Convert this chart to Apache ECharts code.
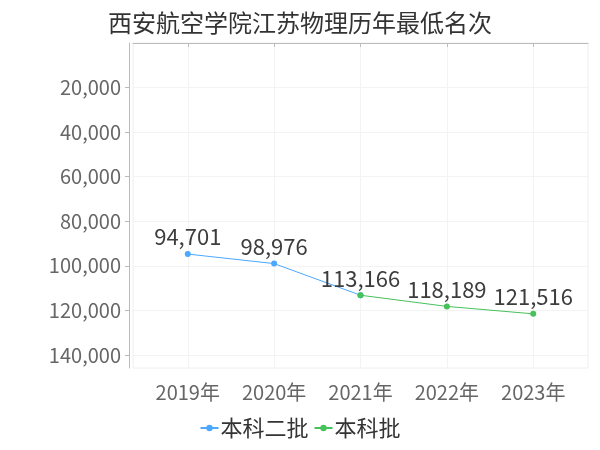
<!DOCTYPE html>
<html>
<head>
<meta charset="utf-8">
<script src="https://cdn.jsdelivr.net/npm/echarts@6/dist/echarts.min.js"></script>
<style>html,body{margin:0;padding:0;background:#fff}#c{width:600px;height:450px}</style>
</head>
<body>
<div id="c"></div>
<script>
const years = [2019, 2020, 2021, 2022, 2023];
const seriesNames = ['本科二批', '本科批'];
const erpiYears = [2019, 2020, 2021];
const erpiValues = [94701, 98976, 113166];
const benkeYears = [2021, 2022, 2023];
const benkeValues = [113166, 118189, 121516];
const yTicks = [20000, 40000, 60000, 80000, 100000, 120000, 140000];
const titleText = '西安航空学院江苏物理历年最低名次';

const font = "'Noto Sans CJK SC', 'Noto Sans', sans-serif";
const fmt = v => v.toLocaleString('en-US');
const allVals = erpiValues.concat(benkeValues);
const yMax = Math.max(...allVals) * 1.2;

const chart = echarts.init(document.getElementById('c'), null, {renderer: 'canvas'});
chart.setOption({
  animation: false,
  textStyle: {fontFamily: font},
  title: {
    text: titleText, left: 'center', top: 6,
    textStyle: {fontSize: 24, fontWeight: 'normal', color: '#333', fontFamily: font}
  },
  legend: {
    bottom: 6, left: 'center', itemWidth: 18, itemHeight: 8, itemGap: 5,
    data: seriesNames,
    textStyle: {fontSize: 22, color: '#333', fontFamily: font, padding: [0, 0, 0, -3]}
  },
  grid: {
    left: 133, right: 12, top: 43, bottom: 82,
    show: true, borderColor: '#eeeeee', borderWidth: 1
  },
  xAxis: {
    type: 'value',
    min: years[0] - 0.634, max: years[years.length - 1] + 0.634,
    offset: 4,
    axisLine: {show: true, lineStyle: {color: '#bbbbbb'}},
    axisTick: {show: true, length: 4, customValues: years, lineStyle: {color: '#bbbbbb'}},
    axisLabel: {customValues: years, formatter: v => v + '年', fontSize: 20, color: '#666', margin: 10, fontFamily: font},
    splitLine: {show: true, lineStyle: {color: '#f3f3f3'}}
  },
  yAxis: {
    type: 'value', inverse: true, min: 0, max: yMax,
    offset: 4,
    axisLine: {show: true, lineStyle: {color: '#bbbbbb'}},
    axisTick: {show: true, length: 4, customValues: yTicks, lineStyle: {color: '#bbbbbb'}},
    axisLabel: {customValues: yTicks, formatter: v => fmt(v), fontSize: 20, color: '#666', margin: 8, fontFamily: font},
    splitLine: {show: true, lineStyle: {color: '#f3f3f3'}}
  },
  series: [
    {
      name: seriesNames[0], type: 'line',
      data: erpiYears.map((y, i) => ({value: [y, erpiValues[i]], label: {show: i < erpiYears.length - 1}})),
      symbol: 'circle', symbolSize: 6,
      itemStyle: {color: '#4aa8ff'}, lineStyle: {width: 1, color: '#4aa8ff'},
      label: {show: true, position: 'top', distance: 3, fontSize: 22, color: '#3d3d3d', fontFamily: font, formatter: p => fmt(p.value[1])}
    },
    {
      name: seriesNames[1], type: 'line',
      data: benkeYears.map((y, i) => [y, benkeValues[i]]),
      symbol: 'circle', symbolSize: 6,
      itemStyle: {color: '#47c15a'}, lineStyle: {width: 1, color: '#47c15a'},
      label: {show: true, position: 'top', distance: 3, fontSize: 22, color: '#3d3d3d', fontFamily: font, formatter: p => fmt(p.value[1])}
    }
  ]
});
</script>
</body>
</html>
